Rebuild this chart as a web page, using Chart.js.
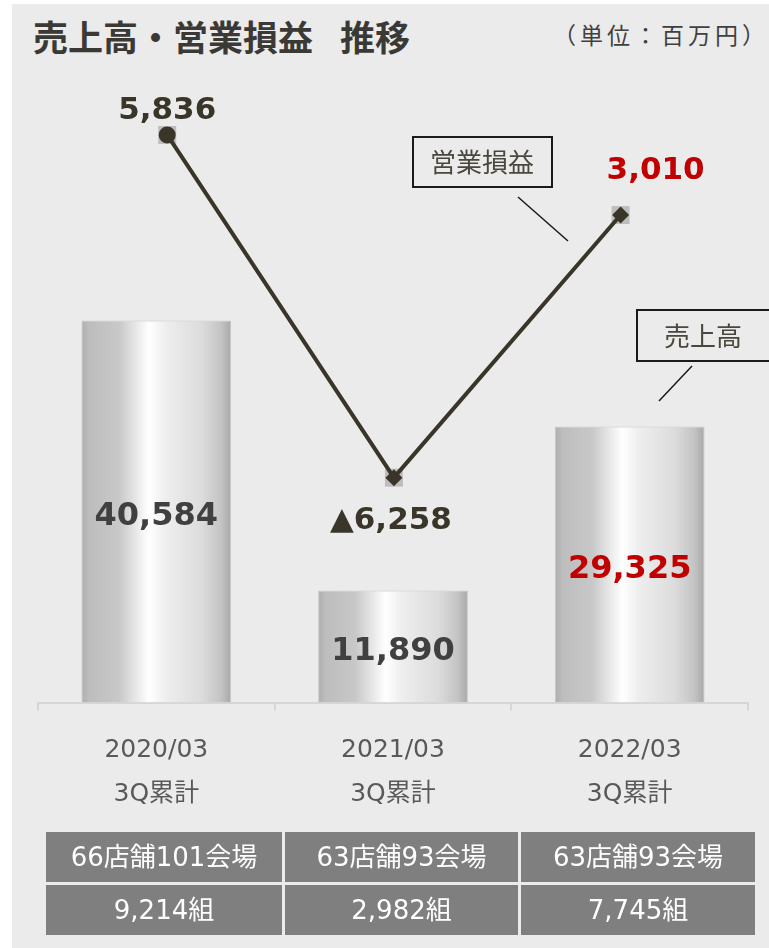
<!DOCTYPE html>
<html lang="ja">
<head>
<meta charset="utf-8">
<script src="https://cdn.jsdelivr.net/npm/chart.js@4.4.1/dist/chart.umd.min.js"></script>
<style>
  body { margin: 0; width: 769px; height: 948px; position: relative; overflow: hidden; background: #fff;
         font-family: "DejaVu Sans", "Noto Sans CJK JP", sans-serif; }
  #panel { position: absolute; left: 12px; top: 4px; right: 0; bottom: 0; background: #ebebeb; }
  #chart { position: absolute; left: 0; top: 0; }
  #title { position: absolute; left: 33px; top: 18px; font: 700 35px/35px "Noto Sans CJK JP", sans-serif;
           color: #3b3935; white-space: nowrap; }
  #title span { margin-left: 27px; }
  #unit { position: absolute; right: 0px; top: 21px; font: 400 23px/26px "Noto Sans CJK JP", sans-serif;
          color: #404040; letter-spacing: 4px; white-space: nowrap; }
  #table { position: absolute; left: 46px; top: 832px; display: grid;
           grid-template-columns: 236px 233px 234px; grid-template-rows: 50px 50px; gap: 3px; }
  #table div { background: #7f7f7f; color: #fff; text-align: center; line-height: 50px; font-size: 26px; }
</style>
</head>
<body>
<div id="panel"></div>
<div id="title">売上高・営業損益<span>推移</span></div>
<div id="unit">（単位：百万円）</div>
<canvas id="chart" width="769" height="948"></canvas>
<div id="table"></div>
<script>
// data (百万円)
const periods = [["2020/03", "3Q累計"], ["2021/03", "3Q累計"], ["2022/03", "3Q累計"]];
const salesValues = [40584, 11890, 29325];      // 売上高
const profitValues = [5836, -6258, 3010];       // 営業損益
const storeLabels = ["66店舗101会場", "63店舗93会場", "63店舗93会場"];
const groupCounts = [9214, 2982, 7745];

const barLabelColors = ["#404040", "#404040", "#c00000"];
const lineLabelColors = ["#3a3529", "#3a3529", "#c00000"];
const lineLabelOffsets = [[0, -24], [-3, 43], [35, -44]];
const pointStyles = ["circle", "rectRot", "rectRot"];
const barPct = 0.633;

const fmt = v => (v < 0 ? "▲" : "") + Math.abs(v).toLocaleString("en-US");

// table under the chart
const table = document.getElementById("table");
storeLabels.concat(groupCounts.map(n => n.toLocaleString("en-US") + "組")).forEach(t => {
    const d = document.createElement("div");
    d.textContent = t;
    table.appendChild(d);
});

// metallic cylinder look for the bars
function barGradient(ctx) {
    const chart = ctx.chart;
    if (!chart.chartArea) return "#d0d0d0";
    const xs = chart.scales.x;
    const cx = xs.getPixelForValue(ctx.dataIndex);
    const half = xs.width / periods.length * barPct / 2;
    const g = chart.ctx.createLinearGradient(cx - half, 0, cx + half, 0);
    g.addColorStop(0, "#adadad");
    g.addColorStop(0.05, "#bdbdbd");
    g.addColorStop(0.25, "#c8c8c8");
    g.addColorStop(0.45, "#ffffff");
    g.addColorStop(0.56, "#eeeeee");
    g.addColorStop(0.8, "#dcdcdc");
    g.addColorStop(0.93, "#c4c4c4");
    g.addColorStop(1, "#a8a8a8");
    return g;
}

// numbers on bars and beside line points
const valueLabels = {
    id: "valueLabels",
    afterDatasetsDraw(chart) {
        const c = chart.ctx;
        c.save();
        c.textAlign = "center";
        c.textBaseline = "middle";
        c.font = 'bold 32px "DejaVu Sans"';
        chart.getDatasetMeta(0).data.forEach((b, i) => {
            c.fillStyle = barLabelColors[i];
            c.fillText(fmt(salesValues[i]), b.x, (b.y + b.base) / 2 + 5);
        });
        c.font = 'bold 31px "DejaVu Sans"';
        chart.getDatasetMeta(2).data.forEach((p, i) => {
            c.fillStyle = lineLabelColors[i];
            c.fillText(fmt(profitValues[i]), p.x + lineLabelOffsets[i][0], p.y + lineLabelOffsets[i][1]);
        });
        c.restore();
    }
};

// series name boxes with leader lines
const callouts = {
    id: "callouts",
    afterDraw(chart) {
        const c = chart.ctx;
        c.save();
        c.strokeStyle = "#1a1a1a";
        c.lineWidth = 2;
        c.strokeRect(413, 137, 139, 50);
        c.strokeRect(637, 310, 140, 51);
        c.lineWidth = 1.5;
        c.beginPath();
        c.moveTo(518, 197); c.lineTo(568, 241);
        c.moveTo(692, 366); c.lineTo(659, 401);
        c.stroke();
        c.fillStyle = "#4a473e";
        c.font = '26px "Noto Sans CJK JP"';
        c.textAlign = "center";
        c.textBaseline = "middle";
        c.fillText("営業損益", 482, 162);
        c.fillText("売上高", 703, 336);
        c.restore();
    }
};

new Chart(document.getElementById("chart"), {
    data: {
        labels: periods,
        datasets: [
            {
                type: "bar",
                label: "売上高",
                data: salesValues,
                yAxisID: "y",
                xAxisID: "x",
                backgroundColor: barGradient,
                borderColor: "#c9c9c9",
                borderWidth: 1,
                barPercentage: barPct,
                categoryPercentage: 1,
                grouped: false,
                order: 3
            },
            {
                type: "line",
                label: "shade",
                data: profitValues.map((v, i) => ({ x: i, y: v })),
                yAxisID: "y2",
                xAxisID: "xl",
                showLine: false,
                pointStyle: "rect",
                pointRadius: 12.7,
                pointBackgroundColor: "#bdbdbd",
                pointBorderWidth: 0,
                clip: false,
                order: 2
            },
            {
                type: "line",
                label: "営業損益",
                data: profitValues.map((v, i) => ({ x: i, y: v })),
                yAxisID: "y2",
                xAxisID: "xl",
                borderColor: "#3a3529",
                borderWidth: 4,
                pointStyle: pointStyles,
                pointRadius: [8.5, 8.5, 8.5],
                pointBackgroundColor: "#3a3529",
                pointBorderWidth: 0,
                tension: 0,
                clip: false,
                order: 1
            }
        ]
    },
    options: {
        responsive: false,
        animation: false,
        layout: { padding: { left: 38, right: 21, top: 100, bottom: 114 } },
        plugins: { legend: { display: false }, tooltip: { enabled: false } },
        scales: {
            x: {
                type: "category",
                offset: true,
                grid: { offset: true, drawOnChartArea: false, tickLength: 8, color: "#d6d6d6", lineWidth: 2 },
                border: { color: "#d6d6d6", width: 2 },
                ticks: {
                    color: "#595959",
                    padding: 18,
                    font: { family: '"DejaVu Sans", "Noto Sans CJK JP"', size: 25, lineHeight: 1.75 }
                }
            },
            xl: { type: "linear", display: false, min: -0.57, max: 2.562 },
            y: { display: false, min: 0, max: 64000 },
            y2: { display: false, min: -14192, max: 7070 }
        }
    },
    plugins: [valueLabels, callouts]
});
</script>
</body>
</html>
